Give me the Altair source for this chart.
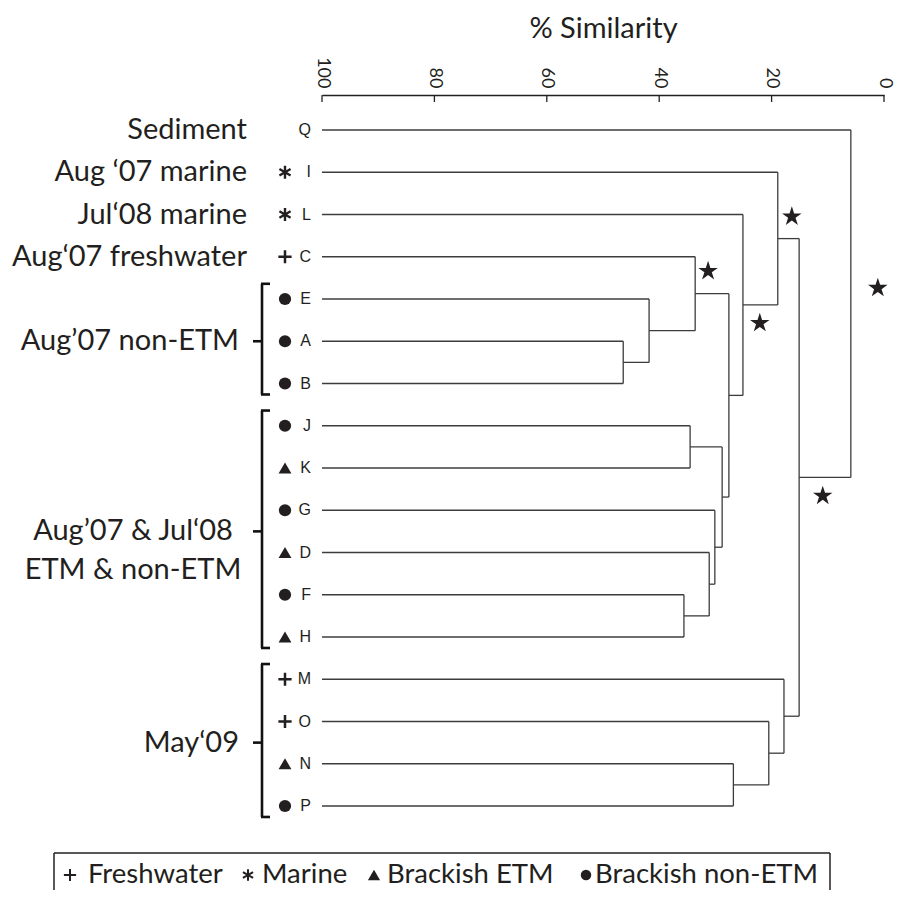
import altair as alt
import pandas as pd

# ---------------- data ----------------
leaves = ["Q", "I", "L", "C", "E", "A", "B", "J", "K", "G", "D", "F", "H", "M", "O", "N", "P"]
leaf_type = ["none", "marine", "marine", "fresh", "nonetm", "nonetm", "nonetm",
             "nonetm", "etm", "nonetm", "etm", "nonetm", "etm",
             "fresh", "fresh", "etm", "nonetm"]

# agglomeration steps: child a, child b, % similarity of the join (nodes n1..n16)
merge_a = ["A", "E", "C", "J", "F", "D", "G", "n4", "n3", "L", "I", "N", "O", "M", "n11", "Q"]
merge_b = ["B", "n1", "n2", "K", "H", "n5", "n6", "n7", "n8", "n9", "n10", "P", "n12", "n13", "n14", "n15"]
merge_sim = [46.4, 41.8, 33.6, 34.5, 35.6, 31.1, 30.1, 28.8, 27.6, 25.1, 18.9, 26.8, 20.5, 17.8, 15.1, 5.9]

# significance stars (similarity, row)
star_sim = [31.3, 16.4, 22.1, 1.1, 10.9]
star_row = [3.34, 2.05, 4.57, 3.74, 8.66]

group_names = ["Sediment", "Aug \u201807 marine", "Jul\u201808 marine", "Aug\u201807 freshwater",
               "Aug\u201907 non-ETM", "Aug\u201907 & Jul\u201808\nETM & non-ETM", "May\u201809"]
group_first = ["Q", "I", "L", "C", "E", "J", "M"]
group_last = ["Q", "I", "L", "C", "B", "H", "P"]

tick_values = [100, 80, 60, 40, 20, 0]

legend_types = ["fresh", "marine", "etm", "nonetm"]
legend_labels = ["Freshwater", "Marine", "Brackish ETM", "Brackish non-ETM"]

# ---------------- build tables ----------------
row_of = {name: i for i, name in enumerate(leaves)}
pos = {name: (100.0, float(i)) for i, name in enumerate(leaves)}
hseg, vseg = [], []
for i, (a, b, s) in enumerate(zip(merge_a, merge_b, merge_sim)):
    xa, ya = pos[a]
    xb, yb = pos[b]
    hseg.append({"x1": xa, "x2": s, "row": ya})
    hseg.append({"x1": xb, "x2": s, "row": yb})
    vseg.append({"sim": s, "r1": ya, "r2": yb})
    pos[f"n{i+1}"] = (s, (ya + yb) / 2)
hdf = pd.DataFrame(hseg)
vdf = pd.DataFrame(vseg)
leafdf = pd.DataFrame({"leaf": leaves, "type": leaf_type, "row": range(len(leaves))})
stardf = pd.DataFrame({"sim": star_sim, "row": star_row})
groupdf = pd.DataFrame({
    "label": group_names,
    "first": [row_of[g] for g in group_first],
    "last": [row_of[g] for g in group_last],
})
groupdf["mid"] = (groupdf["first"] + groupdf["last"]) / 2
groupdf["n"] = groupdf["last"] - groupdf["first"] + 1
tickdf = pd.DataFrame({"v": tick_values})

# ---------------- layout / style ----------------
INK = "#231f20"
LINE = "#3c3c3c"
W, H = 562, 795
ROW_PX = 42.25
y_min = -35 / ROW_PX
y_max = y_min + H / ROW_PX

xscale = alt.Scale(domain=[0, 100], reverse=True, nice=False, zero=False)
yscale = alt.Scale(domain=[y_min, y_max], reverse=True, nice=False, zero=False)
xaxis = alt.Axis(orient="top", values=tick_values, ticks=False, domain=True,
                 domainColor=INK, domainWidth=1.3, grid=False,
                 labelAngle=90, labelAlign="right", labelBaseline="middle",
                 labelFont="Lato", labelFontSize=18, labelColor=INK, labelPadding=7,
                 labelFlush=False, labelOverlap=False,
                 title="% Similarity", titleFont="Lato", titleFontSize=29,
                 titleFontWeight="normal", titleColor=INK, titlePadding=13)


def X(f):
    return alt.X(f, type="quantitative", scale=xscale, axis=xaxis)


def Y(f):
    return alt.Y(f, type="quantitative", scale=yscale, axis=None)


STAR = ("M0,-1L0.2245,-0.309L0.951,-0.309L0.363,0.118L0.588,0.809L0,0.382"
        "L-0.588,0.809L-0.363,0.118L-0.951,-0.309L-0.2245,-0.309Z")
PLUS = "M-1,0H1M0,-1V1"
ASTER = "M0,-1V1M-0.87,-0.5L0.87,0.5M-0.87,0.5L0.87,-0.5"

layers = []

# axis ticks (pointing down, into the plot)
layers.append(alt.Chart(tickdf).mark_rule(color=INK, strokeWidth=1.3).encode(
    x=X("v"), y=alt.value(0), y2=alt.value(7)))

# dendrogram
layers.append(alt.Chart(hdf).mark_rule(color=LINE, strokeWidth=1.3).encode(
    x=X("x1"), x2="x2", y=Y("row")))
layers.append(alt.Chart(vdf).mark_rule(color=LINE, strokeWidth=1.3).encode(
    x=X("sim"), y=Y("r1"), y2="r2"))

# stars
layers.append(alt.Chart(stardf).mark_point(shape=STAR, filled=True, size=420,
                                           color=INK, opacity=1).encode(
    x=X("sim"), y=Y("row")))

# leaf letters
layers.append(alt.Chart(leafdf).mark_text(font="Liberation Sans", fontSize=16, color=INK,
                                          align="right", baseline="middle").encode(
    x=alt.value(-11), y=Y("row"), text="leaf"))

# leaf symbols
SYM_X = -37
sym_styles = {
    "fresh": dict(shape=PLUS, filled=False, size=175, strokeWidth=2.5),
    "marine": dict(shape=ASTER, filled=False, size=165, strokeWidth=2.4),
    "etm": dict(shape="triangle-up", filled=True, size=165, strokeWidth=0),
    "nonetm": dict(shape="circle", filled=True, size=150, strokeWidth=0),
}
for t, st in sym_styles.items():
    layers.append(alt.Chart(leafdf).transform_filter(alt.datum.type == t).mark_point(
        color=INK, opacity=1, **st).encode(x=alt.value(SYM_X), y=Y("row")))

# group labels
LABEL_FS = 29
layers.append(alt.Chart(groupdf).transform_filter("datum.n == 1").mark_text(
    font="Lato", fontSize=LABEL_FS, color=INK, align="right", baseline="middle").encode(
    x=alt.value(-75), y=Y("mid"), text="label"))
layers.append(alt.Chart(groupdf).transform_filter("datum.n > 1 && datum.n < 6").mark_text(
    font="Lato", fontSize=LABEL_FS, color=INK, align="right", baseline="middle").encode(
    x=alt.value(-83), y=Y("mid"), text="label"))
layers.append(alt.Chart(groupdf).transform_filter("datum.n >= 6").mark_text(
    font="Lato", fontSize=LABEL_FS, color=INK, align="center", baseline="middle",
    lineBreak="\n", lineHeight=39).encode(
    x=alt.value(-189), y=Y("mid"), text="label"))

# brackets
brk = alt.Chart(groupdf).transform_filter("datum.n > 1").transform_calculate(
    top="datum.first - 0.36", bot="datum.last + 0.26")
layers.append(brk.mark_rule(color="#111111", strokeWidth=2.6).encode(
    x=alt.value(-60), y=Y("top:Q"), y2="bot:Q"))
layers.append(brk.mark_rule(color="#111111", strokeWidth=2.6).encode(
    x=alt.value(-61), x2=alt.value(-52), y=Y("top:Q")))
layers.append(brk.mark_rule(color="#111111", strokeWidth=2.6).encode(
    x=alt.value(-61), x2=alt.value(-52), y=Y("bot:Q")))
layers.append(brk.mark_rule(color="#111111", strokeWidth=2.6).encode(
    x=alt.value(-69), x2=alt.value(-60), y=Y("mid")))

# legend (bottom box)
leg_sym_x = [-252, -74, 52, 264]
leg_txt_x = [-234, -60, 65, 273]
LEG_Y = 780
leg_sym_styles = {
    "fresh": dict(shape=PLUS, filled=False, size=150, strokeWidth=2.0),
    "marine": dict(shape=ASTER, filled=False, size=135, strokeWidth=2.0),
    "etm": dict(shape="triangle-up", filled=True, size=150, strokeWidth=0),
    "nonetm": dict(shape="circle", filled=True, size=110, strokeWidth=0),
}
legdf = pd.DataFrame({"type": legend_types, "label": legend_labels})
for i, t in enumerate(legend_types):
    one = alt.Chart(legdf).transform_filter(alt.datum.type == t)
    layers.append(one.mark_point(color=INK, opacity=1, **leg_sym_styles[t]).encode(
        x=alt.value(leg_sym_x[i]), y=alt.value(LEG_Y)))
    layers.append(one.mark_text(font="Lato", fontSize=27.5, color=INK, align="left",
                                baseline="middle").encode(
        x=alt.value(leg_txt_x[i]), y=alt.value(LEG_Y), text="label"))

box = alt.Chart(legdf.head(1))
layers.append(box.mark_rule(color=INK, strokeWidth=1.5).encode(
    x=alt.value(-268), x2=alt.value(508), y=alt.value(758)))
layers.append(box.mark_rule(color=INK, strokeWidth=1.5).encode(
    x=alt.value(-268), y=alt.value(758), y2=alt.value(H)))
layers.append(box.mark_rule(color=INK, strokeWidth=1.5).encode(
    x=alt.value(508), y=alt.value(758), y2=alt.value(H)))

chart = alt.layer(*layers).properties(
    width=W, height=H,
    padding={"left": 314, "top": 87, "right": 14, "bottom": 0},
    autosize=alt.AutoSizeParams(type="none"),
).configure_view(stroke=None)

chart.save("out.html", embed_options={"renderer": "svg", "actions": False})
